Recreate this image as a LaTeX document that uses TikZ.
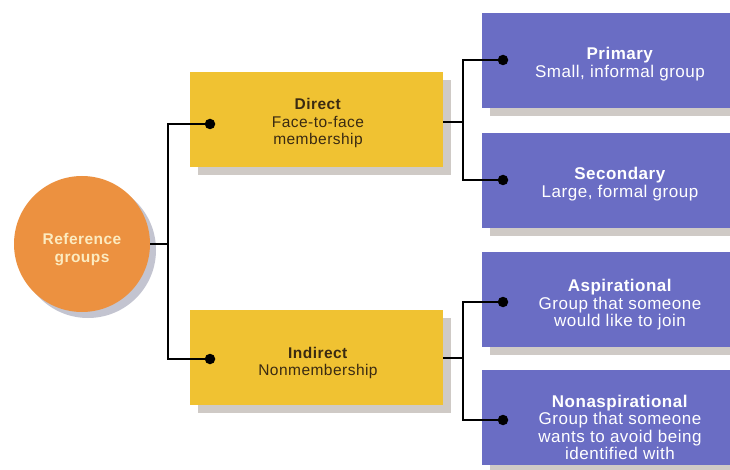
\documentclass[tikz,border=0pt]{standalone}
\usepackage{fontspec}
\setmainfont{Liberation Sans}[LetterSpace=3]
\usetikzlibrary{shadows}
\definecolor{orng}{HTML}{EC9140}
\definecolor{ylw}{HTML}{F0C232}
\definecolor{blu}{HTML}{6A6DC4}
\definecolor{shd}{HTML}{CFCAC6}
\definecolor{cshd}{HTML}{C3C4D0}
\definecolor{cream}{HTML}{FCEBC0}
\definecolor{brn}{HTML}{3A2A12}
\begin{document}
\begin{tikzpicture}[x=1pt,y=-1pt,
  ybox/.style={rectangle, fill=ylw, minimum width=253pt, minimum height=95pt,
    drop shadow={shadow xshift=8pt, shadow yshift=-8pt, fill=shd, opacity=1}},
  bbox/.style={rectangle, fill=blu, minimum width=276pt, minimum height=95pt,
    drop shadow={shadow xshift=8pt, shadow yshift=-8pt, fill=shd, opacity=1}},
  ytxt/.style={text=brn, align=center, inner sep=0pt, font=\fontsize{15.5}{17.5}\selectfont},
  btxt/.style={text=white, align=center, inner sep=0pt, font=\fontsize{17}{17.5}\selectfont},
  conn/.style={draw=black, line width=1.2pt},
  dotm/.style={circle, fill=black, inner sep=0pt, minimum size=10.5pt}]
\useasboundingbox (0,0) rectangle (730,470);
\fill[white] (0,0) rectangle (730,470);
% root circle
\node[circle, fill=orng, minimum size=136pt, inner sep=0pt,
  drop shadow={shadow xshift=6pt, shadow yshift=-6pt, fill=cshd, opacity=1}]
  (root) at (82,244) {};
\node[text=cream, align=center, inner sep=0pt, font=\bfseries\fontsize{15.5}{18}\selectfont]
  (rootT) at (82,250) {Reference\\groups};
% yellow boxes
\node[ybox] (direct) at (316.5,119.5) {};
\node[ytxt] (directT) at (318,123) {\textbf{Direct}\\Face-to-face\\membership};
\node[ybox] (indirect) at (316.5,357.5) {};
\node[ytxt] (indirectT) at (318,363) {\textbf{Indirect}\\Nonmembership};
% blue boxes
\node[bbox] (primary) at (620,60.5) {};
\node[btxt] (primaryT) at (620,64) {\textbf{Primary}\\Small, informal group};
\node[bbox] (secondary) at (620,180.5) {};
\node[btxt] (secondaryT) at (620,184) {\textbf{Secondary}\\Large, formal group};
\node[bbox] (aspir) at (620,299.5) {};
\node[btxt] (aspirT) at (620,305) {\textbf{Aspirational}\\Group that someone\\would like to join};
\node[bbox] (nonasp) at (620,417.5) {};
\node[btxt] (nonaspT) at (620,427.5) {\textbf{Nonaspirational}\\Group that someone\\wants to avoid being\\identified with};
% junctions and dots
\coordinate (j1) at (168,244);
\coordinate (j2) at (463,122);
\coordinate (j3) at (463,358);
\node[dotm] (dA) at (210,124) {};
\node[dotm] (dB) at (210,359) {};
\node[dotm] (dP) at (503,60) {};
\node[dotm] (dS) at (503,180) {};
\node[dotm] (dAs) at (503,302) {};
\node[dotm] (dN) at (503,420) {};
% connectors
\draw[conn] (root.east) -- (j1);
\draw[conn] (j1) |- (dA.center);
\draw[conn] (j1) |- (dB.center);
\draw[conn] (direct.east |- j2) -- (j2);
\draw[conn] (j2) |- (dP.center);
\draw[conn] (j2) |- (dS.center);
\draw[conn] (indirect.east |- j3) -- (j3);
\draw[conn] (j3) |- (dAs.center);
\draw[conn] (j3) |- (dN.center);
\end{tikzpicture}
\end{document}
